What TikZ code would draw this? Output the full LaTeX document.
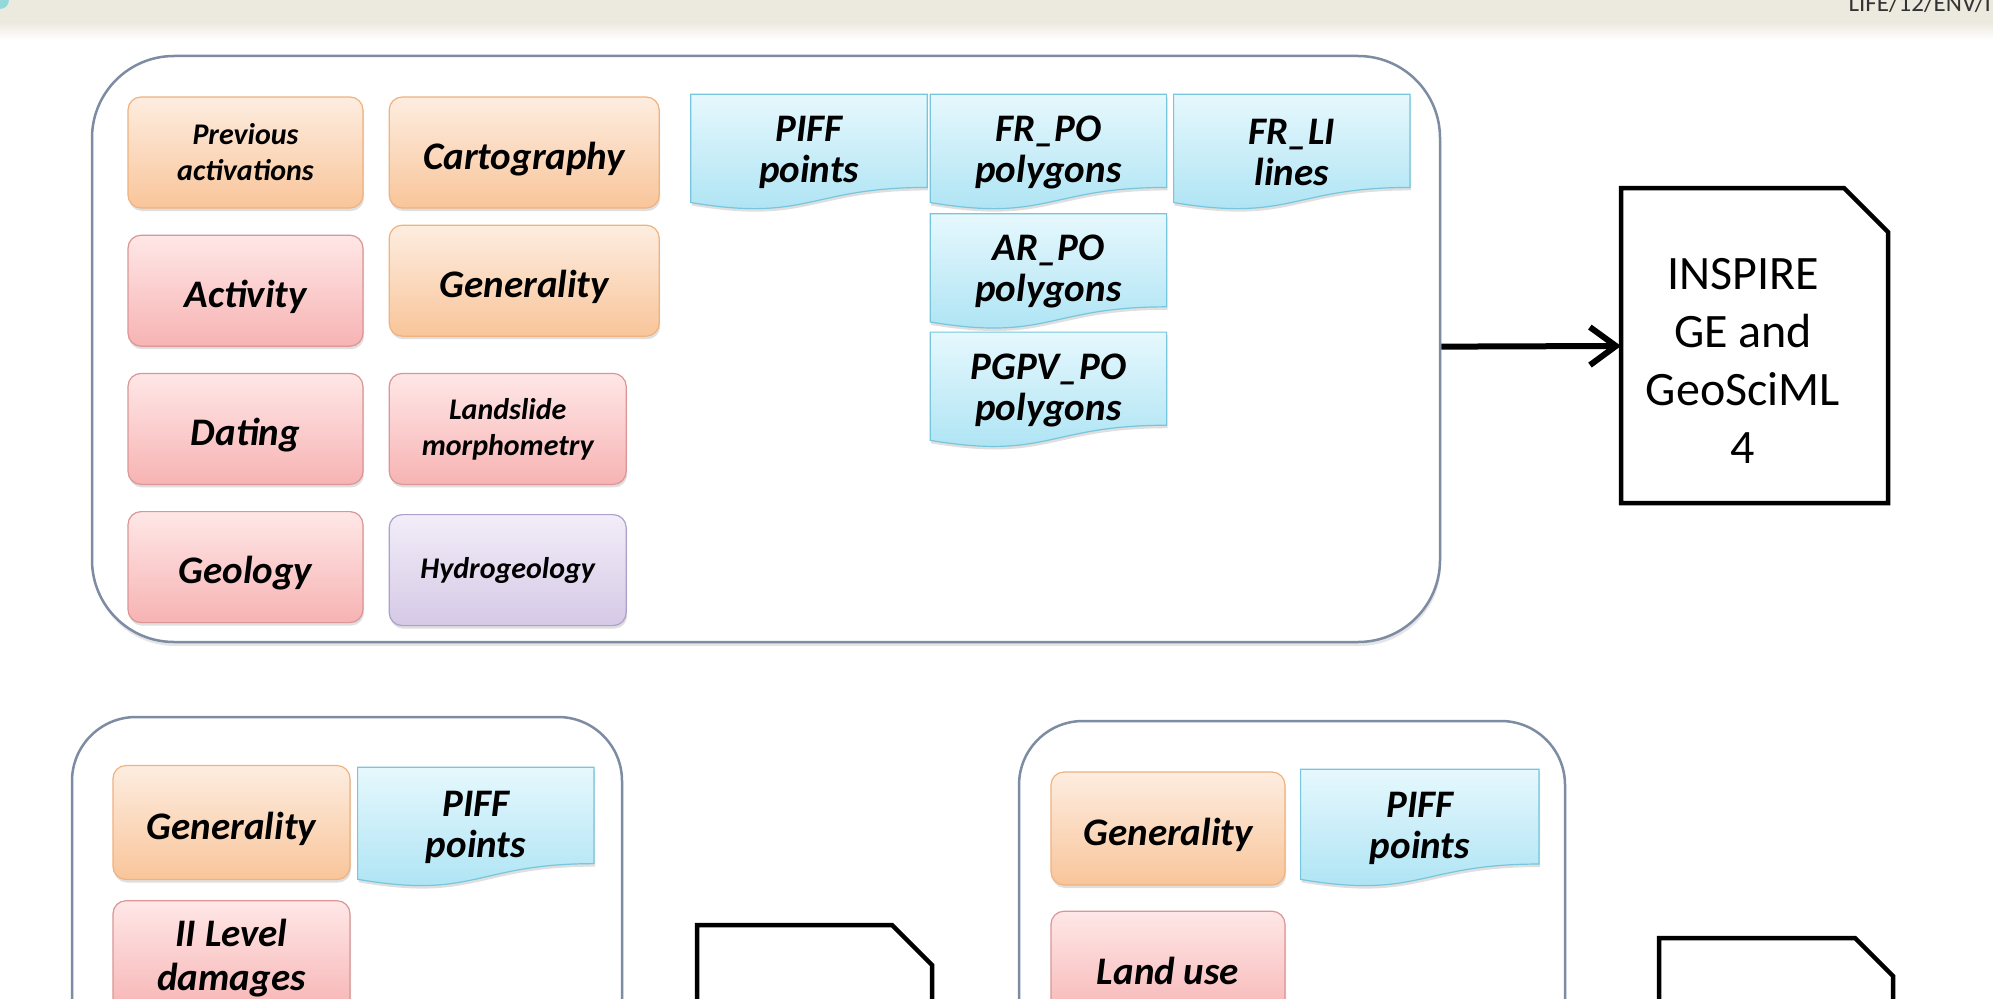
\documentclass[tikz,border=0pt]{standalone}
\usepackage{fontspec}
\setmainfont{Carlito}
\usetikzlibrary{arrows.meta,positioning,calc,shadows,backgrounds}

\definecolor{bandbeige}{HTML}{ECE9DE}
\definecolor{cornercyan}{HTML}{93D9DA}
\definecolor{grpline}{HTML}{7D8CA3}
\definecolor{orangetop}{HTML}{FDEDE0}
\definecolor{orangebot}{HTML}{F9C59A}
\definecolor{orangeline}{HTML}{F0B27E}
\definecolor{redtop}{HTML}{FFE7E7}
\definecolor{redbot}{HTML}{F7B3B3}
\definecolor{redline}{HTML}{DB9696}
\definecolor{purpletop}{HTML}{F2EDF8}
\definecolor{purplebot}{HTML}{D5C9E6}
\definecolor{purpleline}{HTML}{ADA0CB}
\definecolor{bluetop}{HTML}{E6F8FD}
\definecolor{bluebot}{HTML}{A9E2F3}
\definecolor{blueline}{HTML}{76C6DE}

\pgfdeclarelayer{docs}
\pgfsetlayers{background,docs,main}

\begin{document}
\begin{tikzpicture}[x=1pt, y=-1pt, node distance=25pt,
  groupbox/.style={draw=grpline, fill=white, line width=2.5pt, rounded corners=82pt, inner sep=0pt,
    drop shadow={shadow xshift=1pt, shadow yshift=-4pt, opacity=0.2}},
  card/.style={rounded corners=13pt, line width=1.2pt, minimum width=235pt, minimum height=111pt,
    inner sep=2pt, align=center, font=\fontsize{39}{44}\selectfont\bfseries\itshape,
    drop shadow={shadow xshift=1pt, shadow yshift=-3pt, opacity=0.25}},
  oneline/.style={text height=33pt, text depth=0pt},
  orangecard/.style={card, draw=orangeline, top color=orangetop, bottom color=orangebot},
  redcard/.style={card, draw=redline, top color=redtop, bottom color=redbot},
  purplecard/.style={card, draw=purpleline, top color=purpletop, bottom color=purplebot},
  smaller/.style={font=\fontsize{30}{36}\selectfont\bfseries\itshape},
  docbox/.style={minimum width=236pt, minimum height=116pt, inner sep=0pt, align=center,
    font=\fontsize{39}{41}\selectfont\bfseries\itshape},
  wave/.style={draw=blueline, line width=1.2pt, top color=bluetop, bottom color=bluebot,
    drop shadow={shadow xshift=1pt, shadow yshift=-3pt, opacity=0.25}},
  outputdoc/.style={rectangle, inner sep=0pt, outer sep=0pt},
  docline/.style={draw, line width=4.5pt, line join=miter},
  arrow/.style={-{Straight Barb[length=26pt, width=38pt]}, line width=6pt}
]
\useasboundingbox (0,0) rectangle (1993,998);
\clip (0,0) rectangle (1993,998);

\begin{scope}[on background layer]
\clip (0,0) rectangle (1993,998);
\fill[white] (0,0) rectangle (1993,998);
\fill[bandbeige] (0,0) rectangle (1993,22);
\shade[top color=bandbeige, bottom color=white] (0,22) rectangle (1993,40);
\fill[cornercyan] (0,0) circle (9);
% the three groups
\node[groupbox, minimum width=1348pt, minimum height=586pt] (grpmain) at (766,349) {};
\node[groupbox, minimum width=550pt, minimum height=420pt, rounded corners=64pt] (grpleft) at (347,927) {};
\node[groupbox, minimum width=546pt, minimum height=420pt, rounded corners=64pt] (grpright) at (1292,931) {};
\end{scope}

\node[anchor=base west, font=\fontsize{25}{30}\selectfont, text=black!80] (projid) at (1845,12) {LIFE/12/ENV/IT};

% main group
\node[orangecard, smaller] (prevact) at (245.5,152.5) {Previous\\activations};
\node[redcard, oneline, below=26pt of prevact] (activity) {Activity};
\node[redcard, oneline, below=26pt of activity] (dating) {Dating};
\node[redcard, oneline, below=26pt of dating] (geology) {Geology};
\node[orangecard, oneline, right=25pt of prevact, minimum width=270pt] (carto) {Cartography};
\node[orangecard, oneline, below=16pt of carto, minimum width=270pt] (general) {Generality};
\node[redcard, smaller, right=25pt of dating, minimum width=237pt] (morpho) {Landslide\\morphometry};
\node[purplecard, smaller, right=25pt of geology, minimum width=237pt, yshift=-3pt] (hydro) {Hydrogeology};

\node[docbox, right=31pt of carto] (piff) {PIFF\\points};
\node[docbox, right=3pt of piff] (frpo) {FR\_PO\\polygons};
\node[docbox, right=7pt of frpo] (frli) {FR\_LI\\lines};
\node[docbox, below=3pt of frpo] (arpo) {AR\_PO\\polygons};
\node[docbox, below=2pt of arpo] (pgpv) {PGPV\_PO\\polygons};

\node[outputdoc, minimum width=267pt, minimum height=315pt] (inspire) at (1754.5,345.5) {};
\node[font=\fontsize{48}{58}\selectfont, align=center] (inspiretxt) at (1743,361) {INSPIRE\\GE and\\GeoSciML\\4};
\draw[arrow] (grpmain) -- (inspire);

% lower left group
\node[orangecard, oneline, minimum width=237pt, minimum height=114pt] (genleft) at (231.5,822.5) {Generality};
\node[docbox, right=7pt of genleft, yshift=-5pt, minimum height=120pt] (piffleft) {PIFF\\points};
\node[redcard, below=20pt of genleft, minimum width=237pt, minimum height=114pt] (damages) {II Level\\damages};
\node[outputdoc, minimum width=235pt, minimum height=300pt] (docleft) at (814.5,1075) {};

% lower right group
\node[orangecard, oneline, minimum width=234pt, minimum height=113pt] (genright) at (1168,828.5) {Generality};
\node[docbox, right=15pt of genright, minimum width=238pt, minimum height=118pt] (piffright) {PIFF\\points};
\node[redcard, oneline, below=25pt of genright, minimum width=234pt, minimum height=113pt] (landuse) {Land use};
\node[outputdoc, minimum width=234pt, minimum height=300pt] (docright) at (1776,1088) {};

% output documents with the cut corner
\foreach \d/\c in {inspire/44, docleft/40, docright/38}
  \draw[docline] (\d.north west) -- ([xshift=-\c pt]\d.north east)
    -- ([yshift=-\c pt]\d.north east) -- (\d.south east) -- (\d.south west) -- cycle;

\begin{pgfonlayer}{docs}
\foreach \d in {piff,frpo,frli,arpo,pgpv,piffleft,piffright}
  \draw[wave] (\d.north west) -- (\d.north east)
    -- ($(\d.north east)!0.8!(\d.south east)$)
    .. controls ($(\d.north)!0.8!(\d.south)$) and ($(\d.north)!1.1!(\d.south)$)
    .. ($(\d.north west)!0.93!(\d.south west)$) -- cycle;
\end{pgfonlayer}
\end{tikzpicture}
\end{document}
